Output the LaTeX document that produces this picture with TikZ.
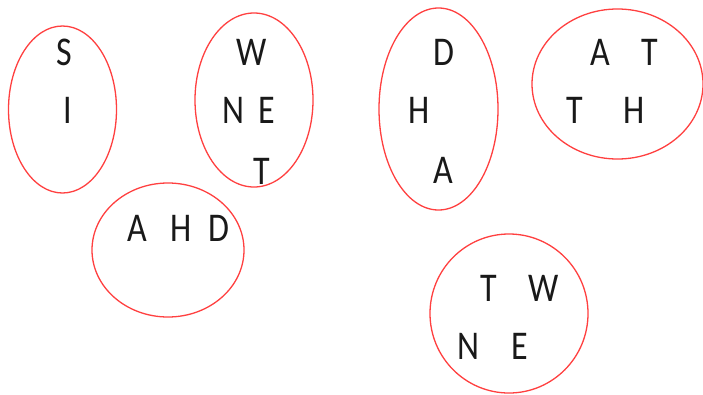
\documentclass[tikz,border=0pt]{standalone}
\usepackage{fontspec}
\setmainfont{Carlito}
\usetikzlibrary{shapes.geometric}
\newcommand{\ltr}[1]{\scalebox{1}[1.2]{#1}}
\begin{document}
\begin{tikzpicture}[x=1pt,y=-1pt,
  ring/.style={draw=red!75!white, line width=1.3pt, ellipse, inner sep=0pt, fill=none},
  letter/.style={inner sep=0pt, text=black!90, font=\fontsize{34}{40}\selectfont}]
\useasboundingbox[fill=white] (0,0) rectangle (703,394);
% ellipses
\node[ring, minimum width=108pt, minimum height=167pt] (e1) at (62.5,109.5) {};
\node[ring, minimum width=118pt, minimum height=174pt] (e2) at (254,100) {};
\node[ring, minimum width=152pt, minimum height=134pt] (e3) at (168,250) {};
\node[ring, minimum width=119pt, minimum height=202pt] (e4) at (438.5,109) {};
\node[ring, minimum width=171pt, minimum height=150pt] (e5) at (617.5,84) {};
\node[ring, minimum width=158pt, minimum height=159pt] (e6) at (509,313.5) {};
% letters
\node[letter] (s1) at (64,52) {\ltr{S}};
\node[letter] (i1) at (68,110) {\ltr{I}};
\node[letter] (w2) at (252,52) {\ltr{W}};
\node[letter] (n2) at (233,110) {\ltr{N}};
\node[letter] (e2l) at (267,110) {\ltr{E}};
\node[letter] (t2) at (262,171) {\ltr{T}};
\node[letter] (a3) at (137,228.5) {\ltr{A}};
\node[letter] (h3) at (181.5,228.5) {\ltr{H}};
\node[letter] (d3) at (218.5,228.5) {\ltr{D}};
\node[letter] (d4) at (444,52) {\ltr{D}};
\node[letter] (h4) at (419.5,110) {\ltr{H}};
\node[letter] (a4) at (443,170) {\ltr{A}};
\node[letter] (a5) at (600,52) {\ltr{A}};
\node[letter] (t5) at (650,52) {\ltr{T}};
\node[letter] (t5b) at (575,110) {\ltr{T}};
\node[letter] (h5) at (634,110) {\ltr{H}};
\node[letter] (t6) at (488.5,288) {\ltr{T}};
\node[letter] (w6) at (543.5,288) {\ltr{W}};
\node[letter] (n6) at (468,346) {\ltr{N}};
\node[letter] (e6l) at (519.5,346) {\ltr{E}};
\end{tikzpicture}
\end{document}
